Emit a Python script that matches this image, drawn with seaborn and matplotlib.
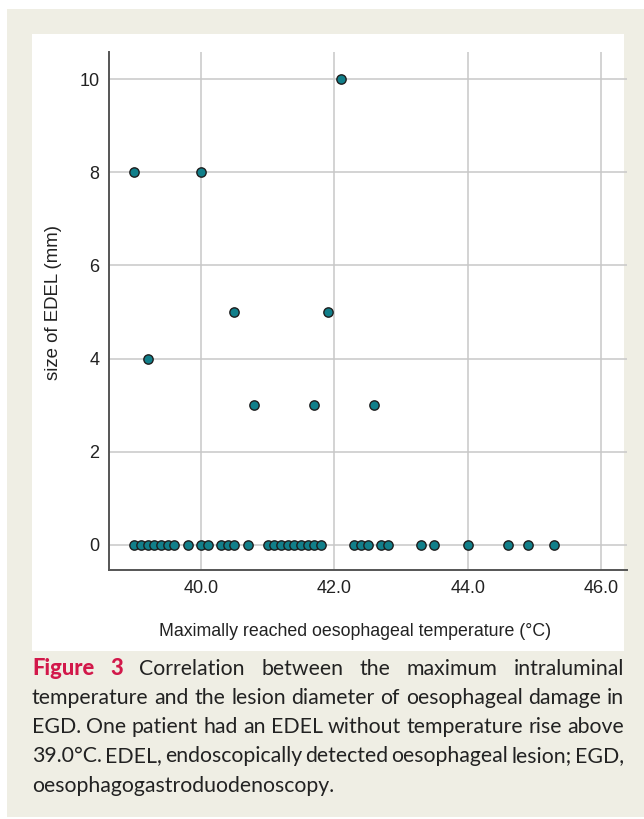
import matplotlib
matplotlib.use("Agg")
import matplotlib.pyplot as plt
import seaborn as sns
import pandas as pd
from matplotlib.patches import Rectangle

# Max oesophageal temperature (deg C) and EDEL size (mm)
temp_lesion = [39.0, 40.0, 39.2, 40.5, 40.8, 41.7, 41.9, 42.1, 42.6]
size_lesion = [8, 8, 4, 5, 3, 3, 5, 10, 3]
temp_no_lesion = [39.0, 39.1, 39.2, 39.3, 39.4, 39.5, 39.6, 39.8, 40.0, 40.1,
                  40.3, 40.4, 40.5, 40.7, 41.0, 41.1, 41.2, 41.3, 41.4, 41.5,
                  41.6, 41.7, 41.8, 42.3, 42.4, 42.5, 42.7, 42.8, 43.3, 43.5,
                  44.0, 44.6, 44.9, 45.3]
x_ticks = [40.0, 42.0, 44.0, 46.0]
y_ticks = [0, 2, 4, 6, 8, 10]

caption_lines = [
    "Figure 3 Correlation between the maximum intraluminal",
    "temperature and the lesion diameter of oesophageal damage in",
    "EGD. One patient had an EDEL without temperature rise above",
    "39.0°C. EDEL, endoscopically detected oesophageal lesion; EGD,",
    "oesophagogastroduodenoscopy.",
]

df = pd.DataFrame({
    "temp": temp_lesion + temp_no_lesion,
    "size": size_lesion + [0] * len(temp_no_lesion),
})

sns.set_theme(style="white")
plt.rcParams["font.family"] = ["Liberation Sans", "DejaVu Sans"]

W, H = 644, 819
fig = plt.figure(figsize=(W / 100, H / 100), dpi=100)
fig.patch.set_facecolor("white")


def px_rect(x0, y0, x1, y1, color):
    fig.patches.append(Rectangle((x0 / W, 1 - y1 / H), (x1 - x0) / W, (y1 - y0) / H,
                                 transform=fig.transFigure, color=color, zorder=-10, lw=0))


px_rect(7, 9, 644, 817, "#efeee4")
px_rect(32, 34, 624, 651, "white")

ax = fig.add_axes([109 / W, 1 - 570 / H, 518 / W, 518 / H])
ax.set_facecolor("none")
sns.scatterplot(data=df, x="temp", y="size", ax=ax, s=45, color="#117f8a",
                edgecolor="#1e1e1e", linewidth=1.0, zorder=3)

ax.set_xlim(38.62, 46.39)
ax.set_ylim(-0.54, 10.58)
ax.set_xticks(x_ticks)
ax.set_xticklabels([f"{v:.1f}" for v in x_ticks])
ax.set_yticks(y_ticks)
ax.set_yticklabels([str(v) for v in y_ticks])
ax.tick_params(length=0, labelsize=13, colors="#222222", pad=7)
ax.grid(True, color="#c8c8c8", linewidth=1.1)
ax.set_axisbelow(True)
for side in ["top", "right"]:
    ax.spines[side].set_visible(False)
for side in ["left", "bottom"]:
    ax.spines[side].set_color("#555555")
    ax.spines[side].set_linewidth(1.4)

ax.set_xlabel("Maximally reached oesophageal temperature (°C)", fontsize=12.8, color="#222222")
ax.set_ylabel("size of EDEL (mm)", fontsize=13.4, color="#222222")
ax.xaxis.set_label_coords(0.475, -0.102)
ax.yaxis.set_label_coords(-0.091, 0.517)

# caption, justified between x=32 and x=624
renderer = fig.canvas.get_renderer()
left, right = 32, 624
baselines = [675, 704, 733, 762, 792]
cap_font = ["Lato", "DejaVu Sans"]
for i, line in enumerate(caption_lines):
    words = line.split(" ")
    texts = []
    for j, w in enumerate(words):
        if i == 0 and j < 2:
            t = fig.text(0, 1 - baselines[i] / H, w, fontsize=15.8, family=cap_font,
                         fontweight="black", color="#d2184a", va="baseline")
        else:
            t = fig.text(0, 1 - baselines[i] / H, w, fontsize=15.3, family=cap_font,
                         color="#222222", va="baseline")
        texts.append(t)
    widths = [t.get_window_extent(renderer).width for t in texts]
    if i < len(caption_lines) - 1 and len(texts) > 1:
        gap = (right - left - sum(widths)) / (len(texts) - 1)
    else:
        gap = 4.5
    x = left
    for t, wd in zip(texts, widths):
        t.set_x(x / W)
        x += wd + gap

fig.savefig("out.png", dpi=100)
